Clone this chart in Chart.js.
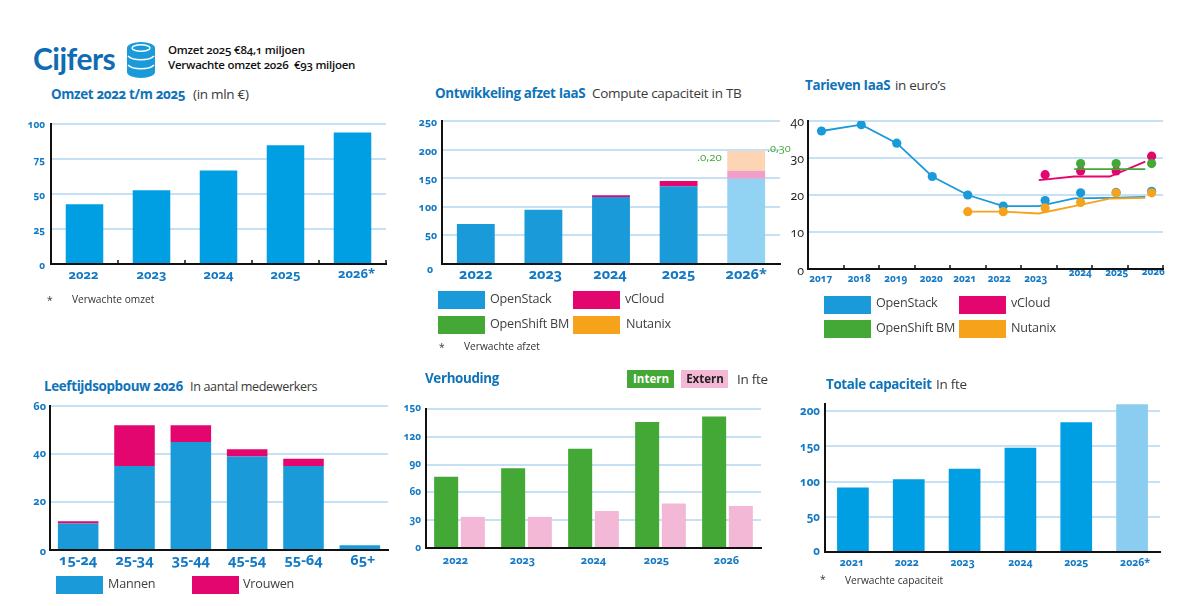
<!DOCTYPE html>
<html lang="nl"><head><meta charset="utf-8">
<style>
html,body{margin:0;padding:0;background:#fff;width:1200px;height:606px;overflow:hidden}
body{position:relative;font-family:"Open Sans",sans-serif;font-variant-numeric:oldstyle-nums}
canvas{position:absolute}
.t{position:absolute;transform:translateY(-50%);white-space:nowrap;line-height:1}
.h{color:#0f73ba;font-weight:700;font-size:13.4px;letter-spacing:-.35px}
.s{color:#3a3a3a;font-size:13.5px;letter-spacing:-.3px}
.l{color:#3f3f3f;font-size:12.6px;letter-spacing:-.2px}
.f{color:#333;font-size:10.2px}
.box{position:absolute;width:47px;height:18px}
</style>
<script src="https://cdn.jsdelivr.net/npm/chart.js@4"></script>
</head><body>
<script>
// ---------- data ----------
const omzetYears = ['2022','2023','2024','2025','2026*'];
const omzetValues = [42.6,52.6,66.7,84.8,94];
const omzetTicks = [0,25,50,75,100];

const afzetYears = ['2022','2023','2024','2025','2026*'];
const afzetOpenStack = [70,95,117,136,149];
const afzetVCloud = [0,0,3,9,14];
const afzetOpenShift = [0,0,0,0,0];
const afzetNutanix = [0,0,0,0,34.5];
const afzetTicks = [0,50,100,150,200,250];

const tariefYears = [2017,2018,2019,2020,2021,2022,2023,2024,2025,2026];
const tariefTicks = [0,10,20,30,40];
const lineXOpenStack = [2016.88,2018,2019,2020,2021,2022,2023,2024,2025,2026];
const lineOpenStack = [37.3,39,34,25,20,17,17,19.1,19.2,19.5];
const lineXNutanix = [2021,2022,2023,2024,2025,2026];
const lineNutanix = [15.5,15.5,15,17,19,19.2];
const lineXVCloud = [2023,2024,2025,2026];
const lineVCloud = [24,25,25,29];
const lineXOpenShift = [2024,2025,2026];
const lineOpenShift = [27,27,27];
const dotXOpenStack = [2016.88,2018,2019,2020,2021,2022,2023.18,2024.18,2025.18,2026.18];
const dotOpenStack = [37.3,39,34,25,20,17,18.5,20.6,20.7,21];
const dotXNutanix = [2021,2022,2023.18,2024.18,2025.18,2026.18];
const dotNutanix = [15.5,15.5,16.5,18,20.6,20.6];
const dotXVCloud = [2023.18,2024.18,2025.18,2026.18];
const dotVCloud = [25.5,26.5,26.5,30.5];
const dotXOpenShift = [2024.18,2025.18,2026.18];
const dotOpenShift = [28.5,28.5,28.5];

const ageGroups = ['15-24','25-34','35-44','45-54','55-64','65+'];
const ageMannen = [11,35,45,39,35,2];
const ageVrouwen = [1,17,7,3,3,0];
const ageTicks = [0,20,40,60];

const ratioYears = ['2022','2023','2024','2025','2026'];
const ratioIntern = [77,86,107,136,142];
const ratioExtern = [33.6,33.6,40,48,45.4];
const ratioTicks = [0,30,60,90,120,150];

const capYears = ['2021','2022','2023','2024','2025','2026*'];
const capValues = [91.6,103.4,118,148,184,209.7];
const capTicks = [0,50,100,150,200];

// ---------- style ----------
const BLUE='#009fe3', BLUE2='#1a9ad9', PALE='#8bcdf0', PINK='#e2066e', GREEN='#43a835', ORANGE='#f7a21b', LPINK='#f4b8d7';
const TICK='#1479c4', GRID='#c6e1f4', FONT='"Open Sans"';

function text(cls,x,y,str,extra){
  const d=document.createElement('div');d.className='t '+cls;d.textContent=str;
  d.style.left=x+'px';d.style.top=y+'px';if(extra)Object.assign(d.style,extra);document.body.appendChild(d);return d;
}
function box(x,y,c,h){
  const d=document.createElement('div');d.className='box';d.style.left=x+'px';d.style.top=y+'px';d.style.background=c;if(h)d.style.height=h+'px';document.body.appendChild(d);return d;
}
const shiftPlugin={id:'shift',beforeDraw(chart,a,o){
  for(const k of ['x','y']){
    const sh=o[k];if(!sh)continue;
    const sc=chart.scales[k];
    sc.getLabelItems(chart.chartArea).forEach((it,i)=>{const s=sh[i]||[0,0];it.options.translation=[it.options.translation[0]+s[0],it.options.translation[1]+s[1]];});
  }
},afterDraw(chart,a,o){
  if(!o.marks)return;
  const c=chart.ctx,ar=chart.chartArea;c.save();c.strokeStyle='#111';c.lineWidth=1.5;
  for(let i=1;i<=o.marks;i++){const x=Math.round(ar.left+i*(ar.right-ar.left)/o.marks);c.beginPath();c.moveTo(x,ar.bottom);c.lineTo(x,ar.bottom-4);c.stroke();}
  c.restore();
}};
function make(plot,type,data,yOpt,xOpt,shift){
  const PL=60,PT=24,PR=24,PB=40;
  const cv=document.createElement('canvas');
  const w=plot.r-plot.l+PL+PR,h=plot.b-plot.t+PT+PB;
  cv.width=w;cv.height=h;cv.style.left=(plot.l-PL)+'px';cv.style.top=(plot.t-PT)+'px';cv.style.width=w+'px';cv.style.height=h+'px';
  document.body.appendChild(cv);
  const vals=yOpt.values;
  new Chart(cv,{type,data,plugins:[shiftPlugin],options:{
    responsive:false,animation:false,devicePixelRatio:1,
    layout:{padding:{left:0,top:PT,right:PR,bottom:0},autoPadding:false},
    plugins:{legend:{display:false},tooltip:{enabled:false},shift:shift||{}},
    scales:{
      x:Object.assign({stacked:!!xOpt.stacked,grid:{display:false,drawTicks:false},border:{display:true,color:'#111',width:2,z:1},
        ticks:{color:xOpt.color||TICK,font:Object.assign({family:FONT,weight:'bold'},xOpt.font),padding:xOpt.pad,maxRotation:0,autoSkip:false},
        afterFit(s){s.height=PB;}},xOpt.extra||{}),
      y:{stacked:!!yOpt.stacked,min:0,max:yOpt.max,
        afterBuildTicks(s){s.ticks=vals.map(v=>({value:v}));},
        afterFit(s){s.width=PL;},
        grid:{color:GRID,lineWidth:2,drawTicks:false},
        border:{display:true,color:'#111',width:2,z:1},
        ticks:{color:yOpt.color||TICK,font:Object.assign({family:FONT,weight:'bold'},yOpt.font),padding:yOpt.pad}}
    }}});
}
const single=(labels,vals,colors,bp)=>({labels,datasets:[{data:vals,backgroundColor:colors,barPercentage:bp,categoryPercentage:1}]});

// ---------- header ----------
text('',33,58,'Cijfers',{color:'#0f6cb4',fontWeight:'700',fontSize:'30px',letterSpacing:'-.5px',fontFamily:'Lato'});
const ns='http://www.w3.org/2000/svg';
const icon=document.createElementNS(ns,'svg');
icon.setAttribute('width','30');icon.setAttribute('height','38');icon.setAttribute('viewBox','0 0 30 38');
icon.style.cssText='position:absolute;left:126px;top:41px';
icon.innerHTML='<path d="M1 7 A14 6 0 0 1 29 7 V31 A14 6 0 0 1 1 31 Z" fill="#1a9ad9"/>'+
 '<ellipse cx="15" cy="7" rx="9" ry="3.2" fill="none" stroke="#fff" stroke-width="1.4"/>'+
 '<path d="M2 15 A14 6 0 0 0 28 15 M2 24 A14 6 0 0 0 28 24" fill="none" stroke="#fff" stroke-width="1.6"/>';
document.body.appendChild(icon);
text('',168,50,'Omzet 2025 €84,1 miljoen',{color:'#111',fontWeight:'600',fontSize:'11.5px',letterSpacing:'-.22px'});
text('',168,65,'Verwachte omzet 2026  €93 miljoen',{color:'#111',fontWeight:'600',fontSize:'11.5px',letterSpacing:'-.25px',whiteSpace:'pre'});

// ---------- chart 1 ----------
text('h',51,95,'Omzet 2022 t/m 2025');text('s',193,95,'(in mln €)');
make({l:51,r:386,t:124,b:264},'bar',single(omzetYears,omzetValues,BLUE,.56),
  {max:100,values:omzetTicks,font:{size:10},pad:6},{font:{size:13},pad:3},
  {marks:5,y:[[0,2],[0,2],[0,2],[0,2],[0,1]],x:[[-1,0],[0,0],[0,0],[0,0],[4,-1]]});
text('f',47,300,'*');text('f',72,299,'Verwachte omzet');

// ---------- chart 2 ----------
text('h',435,94,'Ontwikkeling afzet IaaS');text('s',592,94,'Compute capaciteit in TB');
make({l:442,r:780,t:121,b:264},'bar',{labels:afzetYears,datasets:[
  {label:'OpenStack',data:afzetOpenStack,backgroundColor:[BLUE2,BLUE2,BLUE2,BLUE2,'#92d2f2'],barPercentage:.56,categoryPercentage:1},
  {label:'vCloud',data:afzetVCloud,backgroundColor:[PINK,PINK,PINK,PINK,'#f0a0c8'],barPercentage:.56,categoryPercentage:1},
  {label:'OpenShift BM',data:afzetOpenShift,backgroundColor:GREEN,barPercentage:.56,categoryPercentage:1},
  {label:'Nutanix',data:afzetNutanix,backgroundColor:'#fdd5b4',barPercentage:.56,categoryPercentage:1}
]},{stacked:true,max:250,values:afzetTicks,font:{size:10.5},pad:5},{stacked:true,font:{size:14.5},pad:2},
  {y:[[-4,6],[0,1],[0,1],[0,2],[0,2],[0,2]],x:[[0,0],[2,0],[-1,0],[0,0],[0,0]]});
box(438,291,BLUE2);box(438,316,GREEN);box(573,291,PINK);box(573,316,ORANGE);
text('l',490,299,'OpenStack');text('l',490,324,'OpenShift BM');text('l',625,299,'vCloud');text('l',626,324,'Nutanix');
text('f',439,347,'*');text('f',464,346,'Verwachte afzet');
text('',697,157,'.0,20',{color:GREEN,fontSize:'11.5px'});
text('',767,147,'.0,30',{color:GREEN,fontSize:'11px'});

// ---------- chart 3 ----------
text('h',805,86,'Tarieven IaaS');text('s',895,86,'in euro’s');
const pts=(xs,ys)=>xs.map((x,i)=>({x,y:ys[i]}));
const dots=(xs,ys,c)=>({data:pts(xs,ys),showLine:false,pointRadius:4.6,pointBackgroundColor:c,pointBorderWidth:0});
const line=(xs,ys,c)=>({data:pts(xs,ys),showLine:true,pointRadius:0,borderColor:c,borderWidth:1.8,tension:0});
make({l:808,r:1163,t:121,b:269},'scatter',{datasets:[
  dots(dotXOpenShift,dotOpenShift,GREEN),line(lineXOpenShift,lineOpenShift,GREEN),
  dots(dotXNutanix,dotNutanix,ORANGE),line(lineXNutanix,lineNutanix,ORANGE),
  dots(dotXVCloud,dotVCloud,PINK),line(lineXVCloud,lineVCloud,PINK),
  dots(dotXOpenStack,dotOpenStack,BLUE2),line(lineXOpenStack,lineOpenStack,BLUE2)
]},{max:40,values:tariefTicks,font:{size:12.5,weight:'normal'},color:'#222',pad:4},
  {font:{size:10},pad:4,extra:{type:'linear',min:2016.5,max:2026.5,
    afterBuildTicks(s){s.ticks=tariefYears.map(v=>({value:v}));},
    ticks:{color:TICK,font:{family:FONT,weight:'bold',size:10},padding:4,maxRotation:0,autoSkip:false,callback:v=>String(v)}}},
  {marks:10,y:[[0,2],[0,1],[0,1],[0,1],[0,1]],
   x:[[-5,0],[-2,0],[-1,0],[-1,0],[-3,0],[-4,0],[-3,0],[6,-6],[7,-6],[8,-7]]});
box(824,296,BLUE2);box(824,320,GREEN);box(959,296,PINK);box(959,320,ORANGE);
text('l',876,303,'OpenStack');text('l',876,328,'OpenShift BM');text('l',1011,303,'vCloud');text('l',1011,328,'Nutanix');

// ---------- chart 4 ----------
text('h',44,387,'Leeftijdsopbouw 2026');text('s',190,387,'In aantal medewerkers',{fontSize:'12.6px',letterSpacing:'-.35px'});
make({l:50,r:388,t:406,b:550},'bar',{labels:ageGroups,datasets:[
  {label:'Mannen',data:ageMannen,backgroundColor:BLUE2,barPercentage:.72,categoryPercentage:1},
  {label:'Vrouwen',data:ageVrouwen,backgroundColor:PINK,barPercentage:.72,categoryPercentage:1}
]},{stacked:true,max:60,values:ageTicks,font:{size:11},pad:4},{stacked:true,font:{size:14.5},pad:2},
  {x:[[0,0],[0,0],[0,0],[0,0],[0,0],[3,0]],y:[[0,2],[0,0],[0,0],[0,1]]});
box(56,576,BLUE2);box(192,576,PINK);
text('l',108,584,'Mannen');text('l',243,584,'Vrouwen');

// ---------- chart 5 ----------
text('h',425,379,'Verhouding');
make({l:426,r:761,t:409,b:548},'bar',{labels:ratioYears,datasets:[
  {label:'Intern',data:ratioIntern,backgroundColor:GREEN,barPercentage:.9,categoryPercentage:.797},
  {label:'Extern',data:ratioExtern,backgroundColor:LPINK,barPercentage:.9,categoryPercentage:.797}
]},{max:150,values:ratioTicks,font:{size:10},pad:5},{font:{size:11},pad:6},
  {y:[[0,0],[0,0],[0,0],[0,0],[0,0],[0,-1]],x:[[-4,0],[-4,0],[0,0],[-4,0],[-1,0]]});
box(627,370,GREEN);box(681,370,LPINK);
text('',651,379,'Intern',{color:'#fff',fontWeight:'700',fontSize:'11.5px',transform:'translate(-50%,-50%)'});
text('',705,379,'Extern',{color:'#222',fontWeight:'700',fontSize:'11.5px',transform:'translate(-50%,-50%)'});
text('s',737,380,'In fte');

// ---------- chart 6 ----------
text('h',826,385,'Totale capaciteit');text('s',936,385,'In fte');
make({l:825,r:1160,t:404,b:552},'bar',single(capYears,capValues,[BLUE,BLUE,BLUE,BLUE,BLUE,PALE],.568),
  {max:210,values:capTicks,font:{size:11.5},pad:5},{font:{size:10.5},pad:5},
  {x:[[-1,0],[-2,0],[-2,0],[0,0],[0,0],[3,0]],y:[[0,0],[0,1],[0,1],[0,1],[0,1]]});
text('f',820,579,'*');text('f',845,580,'Verwachte capaciteit');
</script>
</body></html>
